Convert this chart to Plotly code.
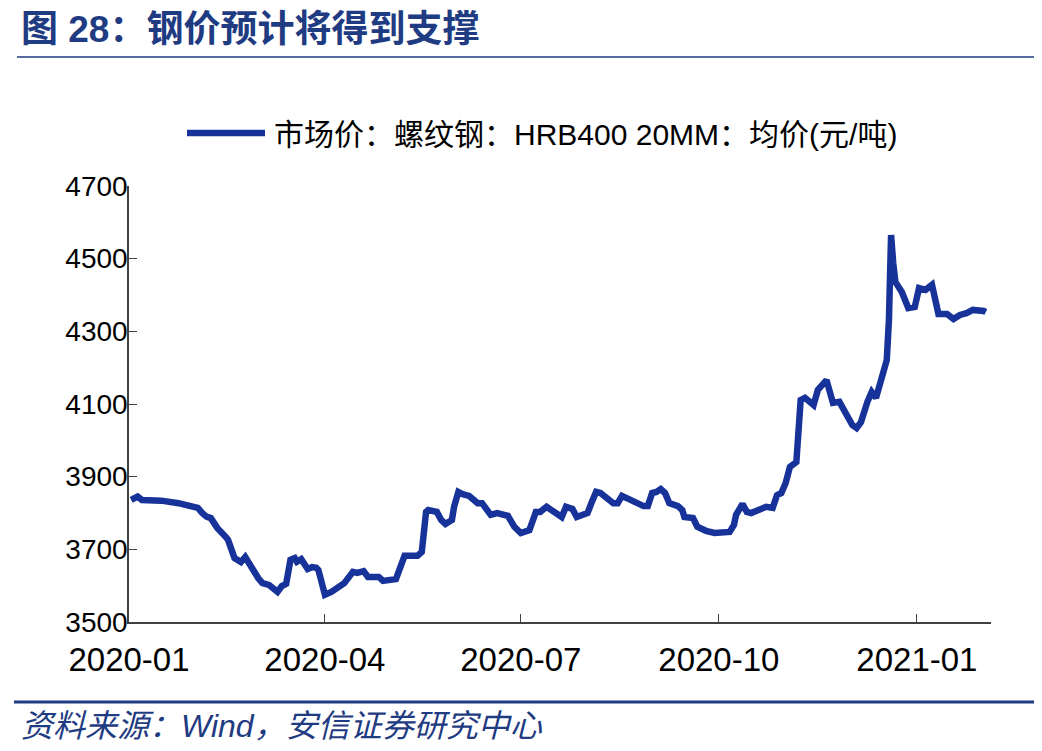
import plotly.graph_objects as go

# ---------------- data ----------------
dates = [
    "2020-01-02", "2020-01-05", "2020-01-07", "2020-01-16", "2020-01-24",
    "2020-02-02", "2020-02-04", "2020-02-06", "2020-02-08", "2020-02-11",
    "2020-02-15", "2020-02-16", "2020-02-19", "2020-02-22", "2020-02-24",
    "2020-02-26", "2020-03-01", "2020-03-03", "2020-03-06", "2020-03-10",
    "2020-03-12", "2020-03-14", "2020-03-16", "2020-03-18", "2020-03-19",
    "2020-03-21", "2020-03-24", "2020-03-26", "2020-03-28", "2020-03-29",
    "2020-04-01", "2020-04-04", "2020-04-07", "2020-04-10", "2020-04-14",
    "2020-04-16", "2020-04-19", "2020-04-21", "2020-04-26", "2020-04-28",
    "2020-05-04", "2020-05-06", "2020-05-08", "2020-05-14", "2020-05-16",
    "2020-05-18", "2020-05-19", "2020-05-23", "2020-05-25", "2020-05-27",
    "2020-05-30", "2020-05-31", "2020-06-02", "2020-06-04", "2020-06-07",
    "2020-06-11", "2020-06-13", "2020-06-17", "2020-06-20", "2020-06-25",
    "2020-06-28", "2020-07-01", "2020-07-05", "2020-07-08", "2020-07-10",
    "2020-07-13", "2020-07-16", "2020-07-20", "2020-07-22", "2020-07-25",
    "2020-07-27", "2020-07-30", "2020-08-01", "2020-08-03", "2020-08-05",
    "2020-08-07", "2020-08-10", "2020-08-13", "2020-08-15", "2020-08-17",
    "2020-08-20", "2020-08-23", "2020-08-27", "2020-08-29", "2020-08-31",
    "2020-09-02", "2020-09-04", "2020-09-06", "2020-09-08", "2020-09-12",
    "2020-09-14", "2020-09-15", "2020-09-19", "2020-09-21", "2020-09-25",
    "2020-09-29", "2020-10-03", "2020-10-06", "2020-10-08", "2020-10-09",
    "2020-10-12", "2020-10-14", "2020-10-16", "2020-10-20", "2020-10-23",
    "2020-10-26", "2020-10-28", "2020-10-30", "2020-11-01", "2020-11-03",
    "2020-11-06", "2020-11-08", "2020-11-10", "2020-11-14", "2020-11-16",
    "2020-11-20", "2020-11-23", "2020-11-26", "2020-11-29", "2020-12-02",
    "2020-12-04", "2020-12-06", "2020-12-09", "2020-12-11", "2020-12-13",
    "2020-12-15", "2020-12-18", "2020-12-19", "2020-12-20", "2020-12-21",
    "2020-12-22", "2020-12-25", "2020-12-28", "2020-12-31", "2021-01-02",
    "2021-01-05", "2021-01-08", "2021-01-11", "2021-01-15", "2021-01-18",
    "2021-01-21", "2021-01-24", "2021-01-27", "2021-02-01", "2021-02-02",
]
prices = [
    3836, 3845, 3836, 3834, 3827,
    3814, 3800, 3790, 3786, 3759,
    3734, 3726, 3676, 3665, 3679,
    3657, 3621, 3607, 3602, 3583,
    3599, 3605, 3671, 3676, 3666,
    3673, 3646, 3651, 3649, 3643,
    3575, 3583, 3594, 3607, 3638,
    3635, 3640, 3624, 3624, 3613,
    3618, 3651, 3682, 3682, 3693,
    3803, 3808, 3803, 3781, 3770,
    3781, 3817, 3858, 3852, 3847,
    3827, 3827, 3795, 3800, 3792,
    3762, 3745, 3753, 3803, 3803,
    3817, 3803, 3789, 3817, 3811,
    3789, 3797, 3800, 3830, 3858,
    3855, 3839, 3827, 3827, 3847,
    3839, 3830, 3819, 3819, 3855,
    3858, 3866, 3855, 3827, 3819,
    3808, 3789, 3786, 3762, 3751,
    3745, 3745, 3748, 3767, 3795,
    3825, 3803, 3800, 3808, 3817,
    3814, 3849, 3855, 3882, 3927,
    3940, 4111, 4117, 4097, 4139,
    4166, 4103, 4106, 4070, 4042,
    4034, 4050, 4106, 4133, 4117,
    4166, 4221, 4331, 4565, 4488,
    4436, 4408, 4364, 4367, 4419,
    4414, 4428, 4348, 4348, 4334,
    4345, 4350, 4359, 4356, 4353,
]
series_name = "市场价：螺纹钢：HRB400 20MM：均价(元/吨)"
x_tick_vals = ["2020-01-01", "2020-04-01", "2020-07-01", "2020-10-01", "2021-01-01"]
x_tick_text = ["2020-01", "2020-04", "2020-07", "2020-10", "2021-01"]
y_tick_vals = [3500, 3700, 3900, 4100, 4300, 4500, 4700]
title_text = "图 28：钢价预计将得到支撑"
source_text = "资料来源：Wind，安信证券研究中心"

# ---------------- styling ----------------
OFF = 8                                   # page body margin in the browser
W, H = 1042 - OFF, 751 - OFF
L, R, T, B = 129, 991, 186, 622          # plot area in page pixels
LINE_COLOR = "#17339a"
NAVY = "#1f3b82"
FONT = "Liberation Sans, Arial, Noto Sans CJK SC, sans-serif"


def px(xp):
    return (xp - L) / (R - L)


def py(yp):
    return (B - yp) / (B - T)


fig = go.Figure()
fig.add_trace(go.Scatter(
    x=dates, y=prices, mode="lines", name=series_name,
    line=dict(color=LINE_COLOR, width=6.5),
    showlegend=False,
))

fig.update_layout(
    width=W, height=H,
    margin=dict(l=L - OFF, r=W - (R - OFF), t=T - OFF, b=H - (B - OFF)),
    paper_bgcolor="white", plot_bgcolor="white",
    font=dict(family=FONT, color="black", size=28),
    xaxis=dict(
        range=["2020-01-01", "2021-02-04 10:00"],
        tickvals=x_tick_vals, ticktext=x_tick_text,
        ticks="inside", ticklen=8, tickwidth=1, tickcolor="#404040",
        showline=True, linecolor="#404040", linewidth=1.5,
        showgrid=False, zeroline=False,
        tickfont=dict(size=33, color="black"),
        ticklabelstandoff=8,
    ),
    yaxis=dict(
        range=[3500, 4700],
        tickvals=y_tick_vals,
        ticks="inside", ticklen=8, tickwidth=1, tickcolor="#404040",
        showline=True, linecolor="#404040", linewidth=1.5,
        showgrid=False, zeroline=False,
        tickfont=dict(size=28, color="black"),
        ticklabelstandoff=-6,
    ),
)

shapes = [
    # line under title
    dict(type="line", xref="paper", yref="paper", x0=px(17), x1=px(1050),
         y0=py(57), y1=py(57), line=dict(color=NAVY, width=1.5)),
    # line above source
    dict(type="line", xref="paper", yref="paper", x0=px(14), x1=px(1050),
         y0=py(702), y1=py(702), line=dict(color=NAVY, width=3)),
    # legend swatch
    dict(type="line", xref="paper", yref="paper", x0=px(187), x1=px(265),
         y0=py(133), y1=py(133), line=dict(color=LINE_COLOR, width=6.5)),
]
fig.update_layout(shapes=shapes)

annotations = [
    dict(text="<b>" + title_text + "</b>", xref="paper", yref="paper",
         x=px(19), y=py(29), xanchor="left", yanchor="middle", showarrow=False,
         font=dict(family="Liberation Sans, Noto Sans CJK SC, sans-serif", size=37, color=NAVY)),
    dict(text=series_name, xref="paper", yref="paper",
         x=px(272), y=py(134), xanchor="left", yanchor="middle", showarrow=False,
         font=dict(family="Liberation Sans, Noto Sans CJK SC, sans-serif", size=30, color="black")),
    dict(text="<i>" + source_text + "</i>", xref="paper", yref="paper",
         x=px(19), y=py(726), xanchor="left", yanchor="middle", showarrow=False,
         font=dict(family="Liberation Sans, Noto Sans CJK SC, sans-serif", size=32, color=NAVY)),
]
fig.update_layout(annotations=annotations)

fig.write_html("out.html")
